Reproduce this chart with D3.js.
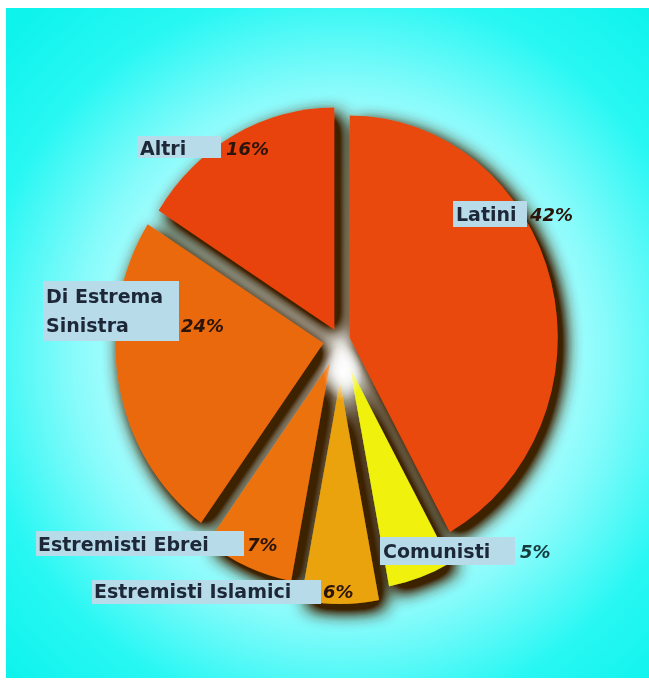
<!DOCTYPE html>
<html>
<head>
<meta charset="utf-8">
<script src="https://cdn.jsdelivr.net/npm/d3@7"></script>
<style>
  body { margin: 0; background: #ffffff; }
  text { font-family: "DejaVu Sans", Verdana, sans-serif; }
</style>
</head>
<body>
<div id="container"></div>
<script>
// data, clockwise from 12 o'clock
var categories = ["Latini", "Comunisti", "Estremisti Islamici", "Estremisti Ebrei", "Di Estrema Sinistra", "Altri"];
var values = [42, 5, 6, 7, 24, 16];
var percentLabels = ["42%", "5%", "6%", "7%", "24%", "16%"];

// styling
var sliceColors = ["#e9480c", "#f0f20c", "#eba30a", "#ec720b", "#ea690c", "#e8420e"];
var explode = [10, 30, 42, 25, 17, 12];

// label boxes [x, y, w, h], text origin and percent origin
var labelLayout = [
  { box: [453, 201, 74, 26], lines: ["Latini"], tx: 456, ty: 221, px: 530, py: 221 },
  { box: [380, 537, 135, 28], lines: ["Comunisti"], tx: 383, ty: 558, px: 520, py: 558 },
  { box: [92, 580, 229, 24], lines: ["Estremisti Islamici"], tx: 94, ty: 598, px: 323, py: 598 },
  { box: [36, 531, 208, 25], lines: ["Estremisti Ebrei"], tx: 38, ty: 551, px: 247, py: 551 },
  { box: [43, 281, 136, 60], lines: ["Di Estrema", "Sinistra"], tx: 46, ty: 303, px: 181, py: 332 },
  { box: [137, 136, 84, 22], lines: ["Altri"], tx: 140, ty: 155, px: 226, py: 155 }
];

var width = 649;
var height = 680;
var cx = 340;
var cy = 340;
var rx = 208;
var ry = 222;

var svg = d3
  .select("#container")
  .append("svg")
  .attr("width", width)
  .attr("height", height);

var defs = svg.append("defs");

var bg = defs
  .append("radialGradient")
  .attr("id", "bg")
  .attr("gradientUnits", "userSpaceOnUse")
  .attr("cx", cx)
  .attr("cy", cy + 15)
  .attr("r", 460);
bg.append("stop").attr("offset", "0%").attr("stop-color", "#ffffff");
bg.append("stop").attr("offset", "35%").attr("stop-color", "#d0ffff");
bg.append("stop").attr("offset", "58%").attr("stop-color", "#88fbfb");
bg.append("stop").attr("offset", "80%").attr("stop-color", "#28f7f3");
bg.append("stop").attr("offset", "100%").attr("stop-color", "#0ff3ed");

var glow = defs
  .append("radialGradient")
  .attr("id", "glow");
glow.append("stop").attr("offset", "0%").attr("stop-color", "#ffffff").attr("stop-opacity", 1);
glow.append("stop").attr("offset", "40%").attr("stop-color", "#ffffff").attr("stop-opacity", 0.7);
glow.append("stop").attr("offset", "100%").attr("stop-color", "#ffffff").attr("stop-opacity", 0);

// soft brown drop shadow under the slices
var shadow = defs
  .append("filter")
  .attr("id", "shadow")
  .attr("x", "-20%")
  .attr("y", "-20%")
  .attr("width", "140%")
  .attr("height", "140%");
shadow.append("feGaussianBlur").attr("in", "SourceAlpha").attr("stdDeviation", 9).attr("result", "blur");
shadow.append("feOffset").attr("in", "blur").attr("dx", 6).attr("dy", 7).attr("result", "off");
var boost = shadow.append("feComponentTransfer").attr("in", "off").attr("result", "offb");
boost.append("feFuncA").attr("type", "linear").attr("slope", 1.8);
shadow.append("feFlood").attr("flood-color", "#3c2000").attr("flood-opacity", 1);
shadow.append("feComposite").attr("in2", "offb").attr("operator", "in").attr("result", "sh");
var merge = shadow.append("feMerge");
merge.append("feMergeNode").attr("in", "sh");
merge.append("feMergeNode").attr("in", "SourceGraphic");

svg
  .append("rect")
  .attr("x", 6)
  .attr("y", 8)
  .attr("width", width - 6)
  .attr("height", height - 10)
  .attr("fill", "url(#bg)");

var pie = d3
  .pie()
  .value(d => d)
  .sort(null);

var arcs = pie(values);

var arc = d3
  .arc()
  .innerRadius(0)
  .outerRadius(ry);

var slices = svg
  .append("g")
  .attr("filter", "url(#shadow)");

slices
  .selectAll("path")
  .data(arcs)
  .enter()
  .append("path")
  .attr("d", arc)
  .attr("fill", (d, i) => sliceColors[i])
  .attr("transform", function(d, i) {
    var mid = (d.startAngle + d.endAngle) / 2;
    var vx = cx + explode[i] * Math.sin(mid);
    var vy = cy - explode[i] * Math.cos(mid);
    return "translate(" + vx + "," + vy + ") scale(" + rx / ry + ",1)";
  });

// white glow in the middle
svg
  .append("ellipse")
  .attr("cx", cx + 3)
  .attr("cy", cy + 33)
  .attr("rx", 20)
  .attr("ry", 28)
  .attr("fill", "url(#glow)");

// labels
var labels = svg
  .selectAll(".label")
  .data(labelLayout)
  .enter()
  .append("g")
  .attr("class", "label");

labels
  .append("rect")
  .attr("x", d => d.box[0])
  .attr("y", d => d.box[1])
  .attr("width", d => d.box[2])
  .attr("height", d => d.box[3])
  .attr("fill", "#b8dbea");

labels.each(function(d) {
  var g = d3.select(this);
  d.lines.forEach(function(line, j) {
    g.append("text")
      .attr("x", d.tx)
      .attr("y", d.ty + j * 29)
      .attr("font-size", "19px")
      .attr("font-weight", "bold")
      .attr("fill", "#1c2738")
      .text(line);
  });
});

labels
  .append("text")
  .attr("x", d => d.px)
  .attr("y", d => d.py)
  .attr("font-size", "18px")
  .attr("font-weight", "bold")
  .attr("font-style", "italic")
  .attr("fill", (d, i) => (i === 1 ? "#163a3c" : "#2b140a"))
  .text((d, i) => percentLabels[i]);
</script>
</body>
</html>
